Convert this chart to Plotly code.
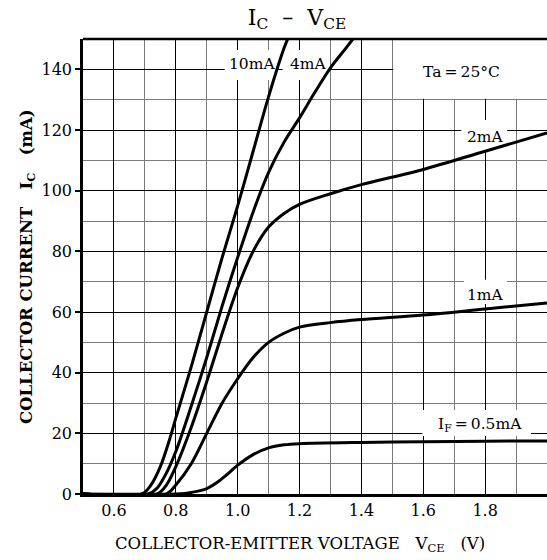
import plotly.graph_objects as go

# ---- data ----
v_10 = [0.50, 0.69, 0.72, 0.75, 0.78, 0.80, 0.85, 0.90, 0.95, 1.00, 1.05, 1.10, 1.15, 1.17]
i_10 = [0, 0, 3, 9, 18, 25, 42, 60, 78, 95, 113, 131, 147, 152]

v_4 = [0.50, 0.71, 0.74, 0.77, 0.80, 0.85, 0.90, 0.95, 1.00, 1.05, 1.10, 1.15, 1.20, 1.25, 1.30, 1.35, 1.38]
i_4 = [0, 0, 2, 7, 14, 29, 45, 62, 78, 93, 106, 116, 124, 132.5, 140.5, 147, 151]

v_2 = [0.50, 0.74, 0.77, 0.80, 0.85, 0.90, 0.95, 1.00, 1.05, 1.10, 1.15, 1.20, 1.30, 1.40, 1.60, 1.80, 2.00]
i_2 = [0, 0, 3, 9, 22, 37, 53, 68, 80, 88, 92.5, 95.5, 99, 102, 107, 113, 119]

v_1 = [0.50, 0.77, 0.80, 0.85, 0.90, 0.95, 1.00, 1.05, 1.10, 1.15, 1.20, 1.30, 1.40, 1.60, 1.80, 2.00]
i_1 = [0, 0, 3, 10, 20, 30, 38, 45, 50, 53, 55, 56.5, 57.5, 59, 61, 63]

v_05 = [0.50, 0.80, 0.83, 0.86, 0.90, 0.94, 0.97, 1.00, 1.05, 1.10, 1.15, 1.20, 1.40, 1.60, 1.80, 2.00]
i_05 = [0, 0, 0.2, 0.7, 1.8, 4.3, 6.8, 9.5, 13.0, 15.2, 16.2, 16.6, 17, 17.2, 17.4, 17.5]

x_ticks = [0.6, 0.8, 1.0, 1.2, 1.4, 1.6, 1.8]
x_tick_text = ["0.6", "0.8", "1.0", "1.2", "1.4", "1.6", "1.8"]
y_ticks = [0, 20, 40, 60, 80, 100, 120, 140]

series = [(v_10, i_10), (v_4, i_4), (v_2, i_2), (v_1, i_1), (v_05, i_05)]

SERIF = "DejaVu Serif"
TS = "\u2009"

fig = go.Figure()
for vx, iy in series:
    fig.add_trace(go.Scatter(x=vx, y=iy, mode="lines",
                             line=dict(color="black", width=3, shape="spline", smoothing=0.9),
                             showlegend=False, hoverinfo="skip", cliponaxis=True))

# white masks between gridlines and traces
masks = [
    (1.503, 2.0, 130.3, 150),      # Ta box
    (0.958, 1.129, 136.5, 146.4),  # 10mA
    (1.145, 1.297, 136.5, 146.4),  # 4mA
    (1.723, 1.871, 113.4, 123.3),  # 2mA
    (1.732, 1.871, 62.6, 70.6),    # 1mA
    (1.597, 1.948, 19.1, 27.7),    # IF=0.5mA
]
for x0, x1, y0, y1 in masks:
    fig.add_shape(type="rect", x0=x0, x1=x1, y0=y0, y1=y1, xref="x", yref="y",
                  fillcolor="white", line=dict(width=0), layer="between")

lab_font = dict(family=SERIF, size=15.5, color="black")
labels = [
    (1.045, 141.8, "10mA"),
    (1.229, 141.8, "4mA"),
    (1.722, 139.0, "Ta" + TS + "=" + TS + "25°C"),
    (1.800, 117.7, "2mA"),
    (1.800, 65.6, "1mA"),
    (1.784, 22.9, "I<sub>F</sub>" + TS + "=" + TS + "0.5mA"),
]
for x, y, t in labels:
    fig.add_annotation(x=x, y=y, text=t, showarrow=False, font=lab_font,
                       xanchor="center", yanchor="middle")

# axis titles
fig.add_annotation(xref="paper", yref="paper", x=0.468, y=-0.112,
                   text="COLLECTOR-EMITTER VOLTAGE   V<sub>CE</sub>   (V)",
                   showarrow=False, font=dict(family=SERIF, size=16.5, color="black"),
                   xanchor="center", yanchor="middle")
fig.add_annotation(xref="paper", yref="paper", x=-0.1207, y=0.501,
                   text="<b>COLLECTOR CURRENT   I<sub>C</sub>   (mA)</b>",
                   showarrow=False, textangle=-90,
                   font=dict(family=SERIF, size=16.5, color="black"),
                   xanchor="center", yanchor="middle")

fig.update_layout(
    width=547, height=560,
    margin=dict(l=83, r=0, t=39, b=66),
    paper_bgcolor="white", plot_bgcolor="white",
    title=dict(text="I<sub>C</sub>  –  V<sub>CE</sub>", x=297 / 547, y=1 - 17 / 560,
               xanchor="center", yanchor="middle",
               font=dict(family=SERIF, size=22, color="black")),
    showlegend=False,
)
fig.update_xaxes(range=[0.5, 2.0], tickvals=x_ticks, ticktext=x_tick_text,
                 showgrid=True, gridcolor="black", gridwidth=1,
                 showline=True, linecolor="black", linewidth=2.5, mirror=False,
                 ticks="", zeroline=False,
                 tickfont=dict(family=SERIF, size=16, color="black"),
                 minor=dict(dtick=0.1, tick0=0.5, showgrid=True, gridcolor="#7a7a7a", gridwidth=1))
fig.update_yaxes(range=[0, 150], tickvals=y_ticks,
                 showgrid=True, gridcolor="black", gridwidth=1,
                 showline=True, linecolor="black", linewidth=2.5,
                 ticks="outside", ticklen=5, tickcolor="black", tickwidth=1.5,
                 zeroline=False,
                 tickfont=dict(family=SERIF, size=16, color="black"),
                 minor=dict(dtick=10, tick0=0, showgrid=True, gridcolor="#7a7a7a", gridwidth=1))
# top border line
fig.add_shape(type="line", xref="paper", yref="paper", x0=0, x1=1, y0=1, y1=1,
              line=dict(color="black", width=2.5), layer="above")

fig.write_html("out.html", config={"displayModeBar": False},
               post_script="document.body.style.margin='0px';document.body.style.overflow='hidden';")
